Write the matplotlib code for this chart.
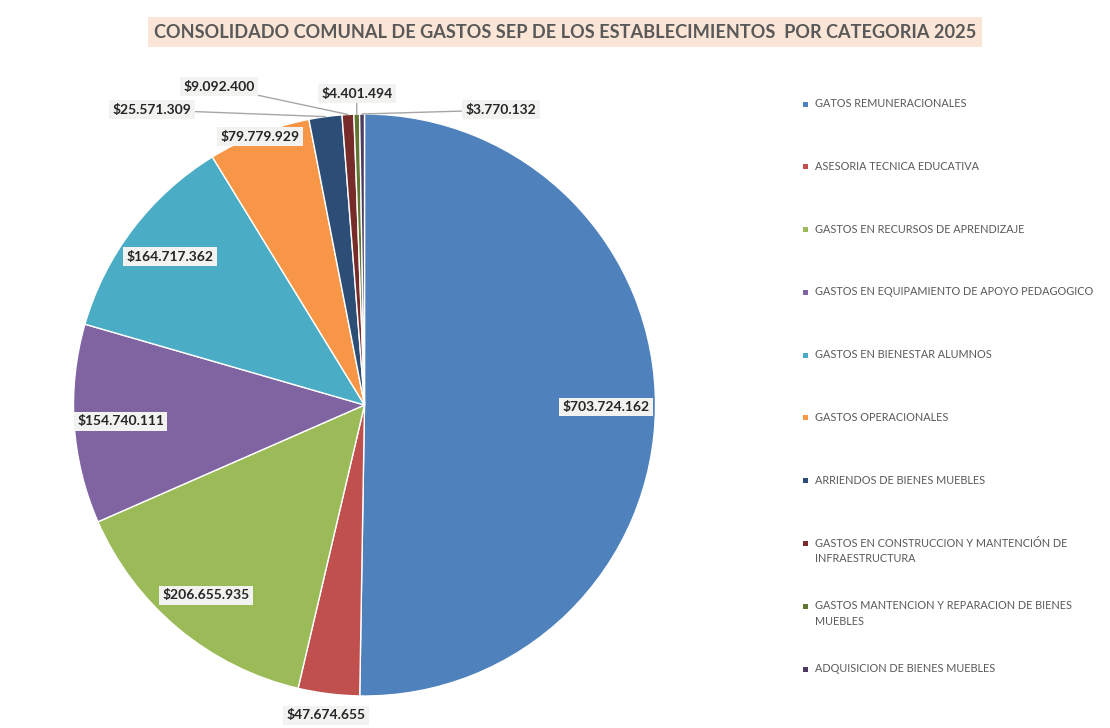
import numpy as np
import matplotlib.pyplot as plt
from matplotlib.patches import Rectangle

plt.rcParams['font.family'] = ['Lato', 'DejaVu Sans']

categories = [
    'GATOS REMUNERACIONALES',
    'ASESORIA TECNICA EDUCATIVA',
    'GASTOS EN RECURSOS DE APRENDIZAJE',
    'GASTOS EN EQUIPAMIENTO DE APOYO PEDAGOGICO',
    'GASTOS EN BIENESTAR ALUMNOS',
    'GASTOS OPERACIONALES',
    'ARRIENDOS DE BIENES MUEBLES',
    'GASTOS EN CONSTRUCCION Y MANTENCIÓN DE\nINFRAESTRUCTURA',
    'GASTOS MANTENCION Y REPARACION DE BIENES\nMUEBLES',
    'ADQUISICION DE BIENES MUEBLES',
]
amounts = [703724162, 47674655, 206655935, 154740111, 164717362,
           79779929, 25571309, 9092400, 4401494, 3770132]

colors = ['#4F81BD', '#C0504D', '#9BBB59', '#8064A2', '#4BACC6',
          '#F79646', '#2C4D75', '#772C2A', '#5F7530', '#4D3B62']

# radial distance of the label for the slices labelled in place
inside_r = {0: 0.83, 2: 0.85, 3: 0.84, 4: 0.84, 5: 0.99, 1: 1.075}
# label spots (data units) for the thin slices that need a leader line
callouts = {6: (-0.73, 1.014), 7: (-0.50, 1.093), 8: (-0.026, 1.069), 9: (0.469, 1.014)}


def money(v):
    return '$' + f'{v:,}'.replace(',', '.')


fig = plt.figure(figsize=(11.1, 7.28), dpi=100)

# title banner
fig.text(565 / 1110, 1 - 32 / 728,
         'CONSOLIDADO COMUNAL DE GASTOS SEP DE LOS ESTABLECIMIENTOS  POR CATEGORIA 2025',
         ha='center', va='center', fontsize=13.1, fontweight='bold', color='#595959',
         bbox=dict(boxstyle='square,pad=0.35', fc='#FBE5D6', ec='none'))

cx, cy, rad = 364.5, 405, 291
ax = fig.add_axes([(cx - rad) / 1110, (728 - cy - rad) / 728, 2 * rad / 1110, 2 * rad / 728])
wedges, _ = ax.pie(amounts, colors=colors, startangle=90, counterclock=False,
                   wedgeprops=dict(edgecolor='white', linewidth=1.0))
ax.set_xlim(-1, 1)
ax.set_ylim(-1, 1)
ax.set_aspect('equal')
ax.axis('off')

box = dict(boxstyle='square,pad=0.25', fc='#F2F2F0', ec='none')
for i, w in enumerate(wedges):
    mid = np.deg2rad((w.theta1 + w.theta2) / 2)
    ex, ey = np.cos(mid), np.sin(mid)
    text = money(amounts[i])
    if i in inside_r:
        r = inside_r[i]
        ax.text(r * ex, r * ey, text, ha='center', va='center', fontsize=10,
                fontweight='bold', color='#262626', bbox=box, clip_on=False)
    else:
        tx, ty = callouts[i]
        ax.annotate(text, xy=(ex, ey), xytext=(tx, ty), ha='center', va='center',
                    fontsize=10, fontweight='bold', color='#262626', bbox=box,
                    annotation_clip=False,
                    arrowprops=dict(arrowstyle='-', color='#A6A6A6', lw=1.0,
                                    shrinkA=0, shrinkB=0))

# legend drawn entry by entry so two-line labels keep even spacing
for i, (name, c) in enumerate(zip(categories, colors)):
    y = 1 - (104 + 62.8 * i) / 728
    fig.patches.append(Rectangle((803 / 1110, y - 2.5 / 728), 5 / 1110, 5 / 728,
                                 transform=fig.transFigure, fc=c, ec='none'))
    fig.text(815 / 1110, y + 6 / 728, name, ha='left', va='top', fontsize=7.8,
             color='#595959', linespacing=1.5)

fig.savefig('out.png', dpi=100)
